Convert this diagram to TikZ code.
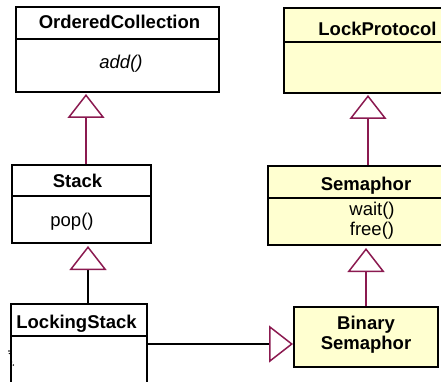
\documentclass[tikz,border=0pt]{standalone}
\usepackage{fontspec}
\setmainfont{Liberation Sans}
\usetikzlibrary{arrows.meta,backgrounds}
\definecolor{umlline}{RGB}{139,26,80}
\definecolor{umlfill}{RGB}{255,255,208}
\begin{document}
\begin{tikzpicture}[x=1pt,y=-1pt,
  cls/.style={draw=black, line width=2pt, fill=white, inner sep=0pt, outer sep=0pt, anchor=north west},
  ycls/.style={cls, fill=umlfill},
  divider/.style={draw=black, line width=2pt},
  lbl/.style={inner sep=0pt, anchor=base, font=\fontsize{18.5}{21}\selectfont},
  blbl/.style={lbl, font=\fontsize{18.5}{21}\selectfont\bfseries},
  ilbl/.style={lbl, font=\fontsize{18.5}{21}\selectfont\itshape},
  gen/.style={draw=umlline, line width=1.5pt, -{Triangle[open, length=24pt, width=37pt, color=umlline, line width=1.5pt]}},
  genk/.style={gen, draw=black},
]
\useasboundingbox (0,0) rectangle (441,382);
\clip (0,0) rectangle (441,382);

% class boxes
\node[cls, minimum width=203pt, minimum height=85pt] (oc) at (16,7) {};
\node[ycls, minimum width=167pt, minimum height=85pt] (lp) at (284,8) {};
\node[cls, minimum width=139pt, minimum height=78pt] (st) at (12,165) {};
\node[ycls, minimum width=182pt, minimum height=79pt] (se) at (268,166) {};
\node[cls, minimum width=136pt, minimum height=95pt] (ls) at (11,304) {};
\node[ycls, minimum width=144pt, minimum height=60pt] (bs) at (294,307) {};

% compartment dividers
\draw[divider] (oc.west |- 0,39) -- (oc.east |- 0,39);
\draw[divider] (lp.west |- 0,42) -- (lp.east |- 0,42);
\draw[divider] (st.west |- 0,196) -- (st.east |- 0,196);
\draw[divider] (se.west |- 0,198) -- (se.east |- 0,198);
\draw[divider] (ls.west |- 0,336) -- (ls.east |- 0,336);

% texts
\node[blbl] (toc) at (119.5,29) {OrderedCollection};
\node[ilbl] (tadd) at (121,69) {add()};
\node[blbl] (tlp) at (377.5,36) {LockProtocol};
\node[blbl] (tst) at (77.5,187) {Stack};
\node[lbl] (tpop) at (72,226) {pop()};
\node[blbl] (tse) at (366,190) {Semaphor};
\node[lbl] (twait) at (372,215) {wait()};
\node[lbl] (tfree) at (372,235) {free()};
\node[blbl] (tls) at (76.5,328) {LockingStack};
\node[blbl] (tb1) at (366,329.5) {Binary};
\node[blbl] (tb2) at (366,349) {Semaphor};

% helper coordinates for connector positions
\coordinate (x1) at (86,0);
\coordinate (x2) at (368,0);
\coordinate (x3) at (88,0);
\coordinate (x4) at (366,0);
\coordinate (y5) at (0,344);

% connectors
\begin{scope}[on background layer]
\draw[gen, shorten >=2pt] (st.north -| x1) -- (oc.south -| x1);
\draw[gen, shorten >=2pt] (se.north -| x2) -- (lp.south -| x2);
\draw[genk, shorten >=3pt] (ls.north -| x3) -- (st.south -| x3);
\draw[gen, shorten >=3pt] (bs.north -| x4) -- (se.south -| x4);
\draw[genk, shorten >=1pt] (ls.east |- y5) -- (bs.west |- y5);
\end{scope}

% small specks at the left edge
\fill (9,351) circle (0.8pt);
\fill (9.3,353.5) circle (0.7pt);
\fill (11.7,362) circle (0.7pt);
\fill (13.3,365) circle (0.8pt);
\end{tikzpicture}
\end{document}
